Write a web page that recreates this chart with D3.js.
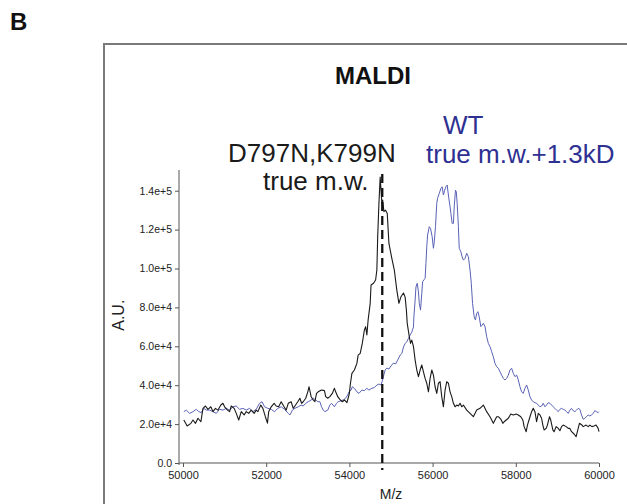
<!DOCTYPE html>
<html><head><meta charset="utf-8">
<script src="https://cdn.jsdelivr.net/npm/d3@7/dist/d3.min.js"></script>
<style>html,body{margin:0;padding:0;background:#fff;}svg{display:block;}</style>
</head><body>
<svg id="chart" width="627" height="504"></svg>
<script>
const xTicks = [50000, 52000, 54000, 56000, 58000, 60000];
const yTicks = [0, 20000, 40000, 60000, 80000, 100000, 120000, 140000];
const yTickLabels = ["0.0","2.0e+4","4.0e+4","6.0e+4","8.0e+4","1.0e+5","1.2e+5","1.4e+5"];
const trueMW = 54790;

// D797N,K799N (black)
const mutantSpectrum = [[50020,22100],[50100,19000],[50190,20400],[50240,22100],[50300,20400],[50360,23000],[50430,21200],[50480,28100],[50540,29300],[50600,27600],[50670,28900],[50720,26400],[50780,28100],[50840,27200],[50910,29800],[50960,30700],[51000,28900],[51070,27200],[51120,26400],[51160,29300],[51230,28100],[51280,25500],[51340,22100],[51400,26400],[51470,24700],[51520,26400],[51580,25500],[51640,27200],[51710,25500],[51760,27200],[51800,26400],[51870,29800],[51920,28100],[51980,23800],[52030,20500],[52060,26400],[52120,28900],[52190,30700],[52240,29300],[52300,28900],[52360,31500],[52430,28900],[52480,27200],[52530,30700],[52600,31500],[52650,28100],[52690,29300],[52760,31500],[52810,33300],[52850,30700],[52890,31500],[52950,33300],[53000,36600],[53030,39200],[53080,34100],[53130,32400],[53170,31500],[53210,35800],[53250,36600],[53330,37500],[53400,37200],[53430,34100],[53480,33300],[53530,34100],[53590,35800],[53640,38400],[53670,36600],[53720,34100],[53770,32700],[53830,31500],[53880,32400],[53940,31000],[53970,33300],[54000,35800],[54020,40100],[54060,46100],[54120,47800],[54180,51200],[54210,55500],[54260,56400],[54310,61500],[54360,68400],[54390,70100],[54420,65800],[54450,73500],[54500,82100],[54520,91500],[54580,92400],[54630,94100],[54660,99200],[54680,116300],[54710,133500],[54740,147000],[54760,140300],[54780,133500],[54800,135200],[54830,129200],[54870,130000],[54910,128300],[54950,112900],[55020,105200],[55080,99200],[55140,88900],[55190,82100],[55240,85500],[55300,87400],[55340,85300],[55370,78600],[55390,71800],[55440,64900],[55470,61500],[55500,63200],[55540,59800],[55580,52900],[55620,47800],[55660,44400],[55700,47800],[55740,50400],[55780,46900],[55820,43500],[55860,41000],[55900,36600],[55940,43500],[55980,47800],[56020,45200],[56060,39200],[56100,35800],[56140,41000],[56180,41800],[56220,34100],[56260,28900],[56300,37500],[56340,41800],[56380,41000],[56420,36600],[56460,34100],[56500,30700],[56540,28900],[56580,29800],[56620,29300],[56660,30700],[56700,28900],[56740,29800],[56820,27200],[56900,25500],[56980,23800],[57060,27200],[57140,28100],[57220,29800],[57300,26400],[57380,23800],[57460,20400],[57540,23800],[57580,23800],[57640,22500],[57690,20400],[57720,21200],[57770,22100],[57820,23000],[57880,25200],[57940,24700],[58010,25200],[58060,24700],[58120,23800],[58170,22100],[58200,18700],[58250,16100],[58280,19500],[58330,23000],[58380,26400],[58420,28100],[58460,26400],[58500,21200],[58540,25500],[58580,24700],[58620,23000],[58650,19500],[58680,17000],[58730,17800],[58760,19500],[58810,23800],[58840,22100],[58890,17000],[58920,16100],[58970,18700],[59020,17800],[59060,16600],[59100,18700],[59140,19500],[59210,18700],[59260,17800],[59300,17800],[59340,16100],[59400,14900],[59450,13500],[59480,16100],[59530,20400],[59590,19500],[59620,18700],[59690,19500],[59740,18700],[59780,19500],[59830,18700],[59880,19000],[59930,19500],[59980,17800],[60000,16100]];

// WT (blue)
const wtSpectrum = [[50020,26400],[50080,27200],[50160,25500],[50240,26400],[50320,27600],[50380,26400],[50440,25900],[50500,28100],[50560,27200],[50640,27200],[50720,26400],[50800,25500],[50880,27600],[50960,27200],[51040,28100],[51120,27200],[51200,28900],[51280,29300],[51360,27600],[51440,28100],[51520,27200],[51600,28100],[51680,26400],[51760,27600],[51840,30700],[51900,31500],[51960,28900],[52040,28100],[52120,27600],[52200,26400],[52280,28100],[52360,28900],[52440,27600],[52530,25500],[52570,24700],[52630,27200],[52690,28100],[52770,28900],[52840,29800],[52890,29300],[52950,30700],[53010,31500],[53080,32400],[53130,33300],[53190,32400],[53240,31500],[53290,31500],[53330,28900],[53370,27200],[53410,26400],[53480,27200],[53530,29800],[53570,30700],[53640,28900],[53690,30700],[53730,31500],[53800,32000],[53850,32400],[53910,33300],[53960,35000],[53990,36600],[54040,37500],[54070,39200],[54120,38400],[54180,36600],[54230,35800],[54300,37500],[54360,37200],[54420,38400],[54470,37500],[54540,38400],[54600,38800],[54660,40100],[54710,40600],[54760,40100],[54790,42100],[54820,44700],[54860,47800],[54900,48800],[54950,48300],[55000,49900],[55060,51400],[55110,50900],[55160,52900],[55220,55500],[55260,56300],[55300,59600],[55340,61500],[55380,62300],[55420,64100],[55460,65800],[55500,67300],[55540,69900],[55550,75000],[55580,83800],[55600,90500],[55630,92400],[55660,88000],[55680,82100],[55710,78600],[55740,87200],[55760,93200],[55790,94100],[55820,94900],[55840,102600],[55860,111200],[55880,117200],[55920,121500],[55950,120600],[55990,116300],[56020,110400],[56040,113700],[56070,121500],[56100,133500],[56120,136100],[56160,138600],[56200,141200],[56230,142000],[56260,137800],[56290,140300],[56320,142000],[56350,142900],[56390,136100],[56420,131700],[56440,128300],[56470,123200],[56500,123200],[56520,131700],[56550,140300],[56570,139400],[56590,133500],[56620,121500],[56640,110400],[56680,108600],[56710,106000],[56740,104300],[56780,105200],[56820,107800],[56860,106000],[56900,99200],[56930,92400],[56960,82100],[57000,75200],[57030,73500],[57060,76900],[57090,77800],[57120,75200],[57160,70100],[57190,70900],[57220,71800],[57260,70100],[57300,64900],[57340,61500],[57380,59800],[57420,57200],[57460,54600],[57500,51200],[57540,49500],[57580,48700],[57620,46900],[57660,45200],[57700,43500],[57740,42700],[57780,43500],[57820,45200],[57860,47800],[57900,48700],[57940,46100],[57980,44400],[58020,45200],[58060,42700],[58100,39200],[58140,36600],[58180,35800],[58220,38400],[58260,40100],[58300,37500],[58340,34100],[58380,32400],[58420,31500],[58460,31000],[58500,30700],[58540,29800],[58580,28900],[58620,29300],[58660,30700],[58700,28900],[58740,29800],[58780,31000],[58820,30700],[58860,29800],[58900,28900],[58940,28100],[58980,27200],[59020,26400],[59060,27600],[59100,28100],[59140,27600],[59180,27200],[59220,26400],[59260,25500],[59300,27200],[59340,28100],[59380,26900],[59420,26400],[59460,27200],[59500,28100],[59540,27600],[59580,24700],[59620,22500],[59660,23000],[59700,23800],[59740,24700],[59780,24200],[59820,24700],[59860,25500],[59900,26900],[59940,26400],[59980,25900],[60000,26400]];

const svg = d3.select("#chart");
const FONT = "'Liberation Sans', Arial, Helvetica, sans-serif";

// panel letter
svg.append("text").attr("x", 10).attr("y", 30)
  .attr("font-family", FONT).attr("font-weight", "bold").attr("font-size", 24)
  .attr("fill", "#111").text("B");

// frame
svg.append("rect").attr("x", 104).attr("y", 44).attr("width", 600).attr("height", 500)
  .attr("fill", "none").attr("stroke", "#7a7a7a").attr("stroke-width", 2);

// title
svg.append("text").attr("x", 373).attr("y", 84).attr("text-anchor", "middle")
  .attr("font-family", FONT).attr("font-weight", "bold").attr("font-size", 24)
  .attr("fill", "#111").text("MALDI");

const x = d3.scaleLinear().domain([50000, 60000]).range([183, 599]);
const y = d3.scaleLinear().domain([0, 150000]).range([463, 171.25]);

// y axis (offset left of plot)
const yAxis = d3.axisLeft(y).tickValues(yTicks).tickSize(4).tickSizeOuter(0)
  .tickFormat((d, i) => yTickLabels[i]);
const gy = svg.append("g").attr("transform", "translate(179,0)").call(yAxis);
gy.select(".domain").attr("stroke", "#555").attr("d", "M0,170V465");
gy.selectAll(".tick line").attr("stroke", "#555");
gy.selectAll(".tick text").attr("font-family", FONT).attr("font-size", 10.5).attr("fill", "#222").attr("x", -7);

// x axis
const xAxis = d3.axisBottom(x).tickValues(xTicks).tickSize(4).tickSizeOuter(0)
  .tickFormat(d3.format("d"));
const gx = svg.append("g").attr("transform", "translate(0,463)").call(xAxis);
gx.select(".domain").attr("stroke", "#555").attr("d", "M179,0H599");
gx.selectAll(".tick line").attr("stroke", "#555");
gx.selectAll(".tick text").attr("font-family", FONT).attr("font-size", 11).attr("fill", "#222").attr("y", 8);

svg.append("text").attr("x", x(55000)).attr("y", 499).attr("text-anchor", "middle")
  .attr("font-family", FONT).attr("font-size", 14).attr("fill", "#222").text("M/z");

svg.append("text").attr("transform", `translate(124,${y(76000)}) rotate(-90)`)
  .attr("text-anchor", "middle")
  .attr("font-family", FONT).attr("font-size", 16).attr("fill", "#222").text("A.U.");

const line = d3.line().x(d => x(d[0])).y(d => y(d[1]));

svg.append("path").datum(wtSpectrum).attr("d", line)
  .attr("fill", "none").attr("stroke", "#5a62b6").attr("stroke-width", 1).attr("stroke-linejoin", "round");
svg.append("path").datum(mutantSpectrum).attr("d", line)
  .attr("fill", "none").attr("stroke", "#1a1a1a").attr("stroke-width", 1.1).attr("stroke-linejoin", "round");

// dashed true m.w. marker
svg.append("line").attr("x1", x(trueMW)).attr("x2", x(trueMW))
  .attr("y1", 174).attr("y2", 470)
  .attr("stroke", "#111").attr("stroke-width", 2.3).attr("stroke-dasharray", "9,5");

// annotations
svg.append("text").attr("x", 228).attr("y", 162)
  .attr("font-family", FONT).attr("font-size", 26).attr("fill", "#1a1a1a").text("D797N,K799N");
svg.append("text").attr("x", 263).attr("y", 190)
  .attr("font-family", FONT).attr("font-size", 26).attr("fill", "#1a1a1a").text("true m.w.");
svg.append("text").attr("x", 443).attr("y", 134)
  .attr("font-family", FONT).attr("font-size", 26).attr("fill", "#2e3192").text("WT");
svg.append("text").attr("x", 426).attr("y", 163)
  .attr("font-family", FONT).attr("font-size", 26).attr("fill", "#2e3192").text("true m.w.+1.3kD");
</script>
</body></html>
